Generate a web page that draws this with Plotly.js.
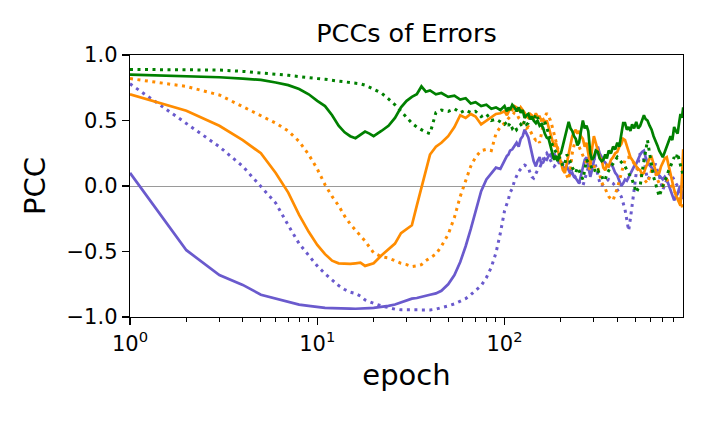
<!DOCTYPE html>
<html>
<head>
<meta charset="utf-8">
<script src="https://cdn.plot.ly/plotly-3.0.1.min.js"></script>
<style>
  html, body { margin: 0; padding: 0; background: #ffffff; }
  #chart { width: 706px; height: 424px; }
</style>
</head>
<body>
<div id="chart"></div>
<script>
// epochs sampled along the log axis (denser where the curves get noisy)
var epochs = [1,2,3,4,5,6,7,8,9,10,11,12,13,14,15,16,17,18,19,20,
  22,24,26,28,30,32,34,36,38,40,
  43,46,50,54,58,62,66,70,75,80,85,90,95,
  100,103,105,107,110,113,116,119,122,125,
  128,131,134,137,140,143,147,150,154,157,
  161,164,168,172,176,180,184,188,192,196,
  200,205,210,215,220,225,230,235,240,245,
  250,256,262,268,274,280,287,293,300,307,
  315,322,330,337,345,352,360,370,380,390,
  400,410,420,430,440,450,460,470,480,492,
  505,517,530,542,555,567,580,595,610,625,
  640,655,670,685,700,717,735,752,770,787,
  805,822,840,855,870,885,900];

var greenSolid = [0.85,0.84,0.83,0.82,0.81,0.79,0.77,0.74,0.70,0.65,0.61,0.54,0.46,0.41,0.38,0.365,0.39,0.415,0.40,0.38,
  0.42,0.46,0.52,0.60,0.65,0.68,0.70,0.76,0.72,0.73,
  0.70,0.71,0.68,0.69,0.66,0.67,0.63,0.64,0.61,0.62,0.59,0.60,0.58,
  0.61,0.57,0.60,0.58,0.62,0.60,0.57,0.60,0.56,0.58,
  0.52,0.54,0.55,0.51,0.53,0.50,0.48,0.50,0.46,0.47,
  0.44,0.40,0.37,0.36,0.30,0.26,0.20,0.23,0.19,0.24,
  0.25,0.31,0.38,0.45,0.49,0.44,0.42,0.38,0.36,0.31,
  0.33,0.42,0.50,0.44,0.46,0.42,0.25,0.20,0.22,0.27,
  0.26,0.21,0.19,0.20,0.24,0.21,0.27,0.25,0.30,0.28,
  0.33,0.30,0.40,0.48,0.48,0.43,0.45,0.42,0.47,0.44,
  0.49,0.44,0.46,0.50,0.54,0.51,0.50,0.46,0.43,0.38,
  0.35,0.31,0.27,0.24,0.22,0.26,0.30,0.34,0.38,0.35,
  0.45,0.42,0.40,0.48,0.55,0.52,0.60];

var greenDotted = [0.89,0.89,0.885,0.875,0.865,0.855,0.845,0.835,0.825,0.82,0.815,0.81,0.80,0.795,0.79,0.785,0.78,0.77,0.755,0.74,
  0.71,0.665,0.62,0.57,0.52,0.48,0.45,0.43,0.41,0.40,
  0.56,0.58,0.57,0.59,0.56,0.58,0.56,0.57,0.53,0.55,0.50,0.51,0.49,
  0.47,0.49,0.46,0.48,0.44,0.46,0.43,0.45,0.47,0.45,
  0.50,0.47,0.48,0.51,0.52,0.50,0.55,0.52,0.50,0.48,
  0.46,0.49,0.45,0.40,0.35,0.31,0.28,0.26,0.24,0.22,
  0.20,0.15,0.17,0.24,0.22,0.18,0.14,0.12,0.10,0.14,
  0.12,0.08,0.05,0.12,0.20,0.18,0.17,0.13,0.14,0.10,
  0.12,0.09,0.08,0.04,0.05,0.09,0.12,0.15,0.17,0.20,
  0.22,0.20,0.18,0.16,0.15,0.12,0.10,0.07,0.05,0.00,
  -0.05,-0.02,0.00,0.10,0.20,0.28,0.35,0.25,0.15,0.07,
  0.02,-0.03,-0.08,-0.04,0.00,0.04,0.07,0.12,0.15,0.18,
  0.22,0.20,0.25,0.20,0.15,0.12,0.08];

var orangeSolid = [0.70,0.575,0.46,0.35,0.25,0.10,-0.05,-0.22,-0.35,-0.45,-0.52,-0.57,-0.59,-0.595,-0.595,-0.59,-0.585,-0.61,-0.60,-0.59,
  -0.53,-0.48,-0.44,-0.36,-0.33,-0.30,-0.15,-0.02,0.12,0.24,
  0.30,0.33,0.38,0.45,0.54,0.52,0.55,0.53,0.47,0.50,0.53,0.55,0.555,
  0.57,0.54,0.56,0.59,0.58,0.61,0.60,0.57,0.60,0.58,
  0.56,0.53,0.52,0.55,0.54,0.51,0.555,0.53,0.53,0.50,
  0.51,0.48,0.50,0.45,0.40,0.34,0.30,0.33,0.28,0.22,
  0.18,0.12,0.10,0.18,0.25,0.32,0.38,0.41,0.43,0.40,
  0.42,0.38,0.36,0.30,0.33,0.25,0.15,0.28,0.38,0.33,
  0.28,0.22,0.20,0.14,0.12,0.16,0.15,0.20,0.22,0.25,
  0.26,0.30,0.32,0.36,0.35,0.30,0.26,0.22,0.20,0.17,
  0.15,0.13,0.12,0.09,0.10,0.14,0.18,0.21,0.22,0.16,
  0.12,0.09,0.10,0.15,0.18,0.21,0.22,0.15,0.08,0.02,
  -0.03,-0.07,-0.10,-0.12,-0.15,0.05,0.28];

var orangeDotted = [0.82,0.76,0.695,0.605,0.54,0.48,0.42,0.34,0.24,0.13,0.01,-0.08,-0.15,-0.23,-0.29,-0.34,-0.38,-0.42,-0.47,-0.51,
  -0.54,-0.55,-0.57,-0.59,-0.60,-0.615,-0.61,-0.60,-0.57,-0.55,
  -0.52,-0.46,-0.37,-0.24,-0.08,0.04,0.15,0.22,0.27,0.28,0.27,0.40,0.45,
  0.48,0.50,0.52,0.53,0.54,0.56,0.555,0.52,0.50,0.49,
  0.47,0.44,0.45,0.42,0.40,0.37,0.35,0.36,0.33,0.40,
  0.48,0.53,0.555,0.52,0.50,0.45,0.40,0.35,0.30,0.24,
  0.18,0.15,0.13,0.08,0.05,0.14,0.25,0.31,0.35,0.33,
  0.30,0.26,0.22,0.20,0.18,0.15,0.12,0.13,0.15,0.16,
  0.14,0.08,0.03,0.00,-0.02,-0.05,-0.08,-0.10,-0.11,-0.06,
  -0.02,0.04,0.10,0.15,0.20,0.22,0.22,0.21,0.20,0.17,
  0.15,0.12,0.10,0.07,0.05,0.03,0.02,0.07,0.12,0.11,
  0.10,0.05,0.02,0.01,0.00,0.03,0.05,0.03,0.02,-0.01,
  -0.04,-0.06,-0.08,-0.10,-0.13,-0.15,-0.18];

var purpleSolid = [0.10,-0.49,-0.68,-0.755,-0.83,-0.86,-0.885,-0.905,-0.915,-0.925,-0.93,-0.932,-0.935,-0.936,-0.936,-0.937,-0.937,-0.935,-0.932,-0.93,
  -0.925,-0.915,-0.905,-0.89,-0.875,-0.86,-0.855,-0.845,-0.835,-0.83,
  -0.82,-0.80,-0.75,-0.68,-0.58,-0.46,-0.33,-0.19,-0.04,0.05,0.10,0.14,0.13,
  0.20,0.23,0.24,0.27,0.28,0.31,0.33,0.30,0.36,0.38,
  0.43,0.40,0.37,0.31,0.25,0.19,0.15,0.19,0.22,0.17,
  0.18,0.21,0.20,0.23,0.24,0.21,0.25,0.22,0.20,0.17,
  0.19,0.15,0.13,0.15,0.12,0.09,0.10,0.07,0.06,0.04,
  0.02,0.08,0.15,0.20,0.22,0.14,0.07,0.12,0.20,0.26,
  0.30,0.25,0.22,0.19,0.18,0.16,0.15,0.17,0.14,0.10,
  0.08,0.03,0.00,0.02,0.05,0.04,0.07,0.10,0.12,0.15,
  0.17,0.21,0.24,0.26,0.27,0.22,0.18,0.16,0.14,0.12,
  0.10,0.09,0.08,0.06,0.05,0.07,0.05,0.01,-0.03,-0.07,
  -0.11,-0.08,-0.06,-0.02,0.00,-0.05,-0.10];

var purpleDotted = [0.78,0.48,0.30,0.15,0.00,-0.13,-0.30,-0.44,-0.53,-0.61,-0.67,-0.72,-0.76,-0.79,-0.81,-0.82,-0.84,-0.87,-0.885,-0.895,
  -0.915,-0.93,-0.94,-0.945,-0.946,-0.947,-0.947,-0.947,-0.946,-0.946,
  -0.94,-0.93,-0.915,-0.90,-0.88,-0.86,-0.83,-0.80,-0.76,-0.70,-0.62,-0.51,-0.36,
  -0.19,-0.14,-0.10,-0.05,-0.02,0.04,0.08,0.11,0.13,0.15,
  0.16,0.15,0.14,0.10,0.07,0.06,0.10,0.12,0.14,0.17,
  0.20,0.23,0.25,0.22,0.20,0.17,0.15,0.17,0.18,0.21,
  0.20,0.17,0.18,0.19,0.17,0.13,0.10,0.08,0.06,0.05,
  0.03,0.01,0.00,0.05,0.10,0.14,0.18,0.20,0.22,0.15,
  0.08,0.03,0.00,0.02,0.03,0.04,0.05,0.03,0.02,0.00,
  -0.03,-0.05,-0.08,-0.13,-0.18,-0.26,-0.34,-0.25,-0.16,-0.03,
  0.10,0.18,0.25,0.23,0.20,0.12,0.05,0.07,0.10,0.14,
  0.17,0.12,0.08,0.02,-0.03,0.01,0.05,0.08,0.10,0.07,
  0.05,0.02,0.00,-0.02,-0.05,-0.01,0.02];

var majorTicks = [1, 10, 100];
var majorLabels = ['10<sup>0</sup>', '10<sup>1</sup>', '10<sup>2</sup>'];
var minorTicks = [2,3,4,5,6,7,8,9,20,30,40,50,60,70,80,90,200,300,400,500,600,700,800,900];

function line(y, color, dotted) {
  return {
    x: epochs,
    y: y,
    type: 'scatter',
    mode: 'lines',
    line: { color: color, width: dotted ? 3 : 2.7, dash: dotted ? '3px,4.5px' : 'solid' },
    hoverinfo: 'skip'
  };
}

var data = [
  line(purpleSolid, '#6a5acd', false),
  line(purpleDotted, '#6a5acd', true),
  line(orangeSolid, '#ff8c00', false),
  line(orangeDotted, '#ff8c00', true),
  line(greenSolid, '#008000', false),
  line(greenDotted, '#008000', true)
];

var layout = {
  width: 706,
  height: 424,
  margin: { l: 130, r: 23, t: 55, b: 107 },
  paper_bgcolor: '#ffffff',
  plot_bgcolor: '#ffffff',
  showlegend: false,
  font: { family: 'DejaVu Sans', color: '#000000' },
  title: {
    text: 'PCCs of Errors',
    font: { family: 'DejaVu Sans', size: 25.5, color: '#000000' },
    x: 0.5,
    xref: 'paper',
    y: 0.9,
    yref: 'container',
    yanchor: 'bottom'
  },
  xaxis: {
    type: 'log',
    range: [0, 2.953],
    tickmode: 'array',
    tickvals: majorTicks,
    ticktext: majorLabels,
    ticks: 'outside',
    ticklen: 7,
    tickwidth: 1.2,
    tickcolor: '#000000',
    minor: { tickmode: 'array', tickvals: minorTicks, ticks: 'outside', ticklen: 4, tickwidth: 1, tickcolor: '#000000', showgrid: false },
    showgrid: false,
    zeroline: false,
    showline: true,
    mirror: true,
    linecolor: '#000000',
    linewidth: 1.3,
    tickfont: { family: 'DejaVu Sans', size: 21, color: '#000000' },
    title: {
      text: 'epoch',
      font: { family: 'DejaVu Sans', size: 29, color: '#000000' },
      standoff: 10
    }
  },
  yaxis: {
    range: [-1, 1],
    tickmode: 'array',
    tickvals: [-1, -0.5, 0, 0.5, 1],
    ticktext: ['\u22121.0', '\u22120.5', '0.0', '0.5', '1.0'],
    ticks: 'outside',
    ticklen: 7,
    tickwidth: 1.2,
    tickcolor: '#000000',
    showgrid: false,
    zeroline: true,
    zerolinecolor: '#9a9a9a',
    zerolinewidth: 1,
    showline: true,
    mirror: true,
    linecolor: '#000000',
    linewidth: 1.3,
    tickfont: { family: 'DejaVu Sans', size: 21, color: '#000000' },
    title: {
      text: 'PCC',
      font: { family: 'DejaVu Sans', size: 29, color: '#000000' },
      standoff: 12
    }
  }
};

Plotly.newPlot('chart', data, layout, { displayModeBar: false, staticPlot: true });
</script>
</body>
</html>
